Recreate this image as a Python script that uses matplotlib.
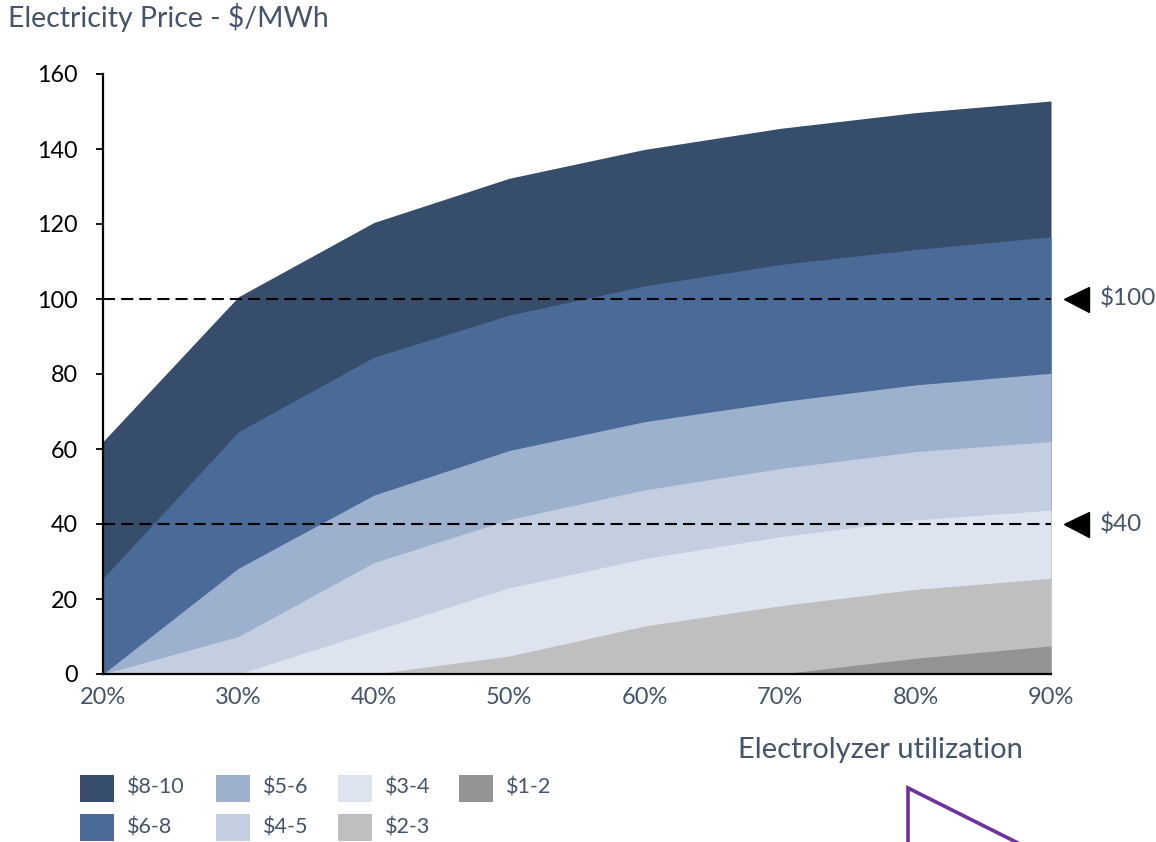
import matplotlib
matplotlib.use("Agg")
import matplotlib.pyplot as plt
from matplotlib.lines import Line2D
from matplotlib.patches import Rectangle
import matplotlib.transforms as mtransforms

# Electrolyzer utilization (%)
utilization = [20, 30, 40, 50, 60, 70, 80, 90]

# Upper edge of each hydrogen-cost band, electricity price in $/MWh
top_8_10 = [62.0, 100.6, 120.4, 132.2, 139.9, 145.5, 149.7, 152.8]
top_6_8 = [25.5, 64.6, 84.5, 95.7, 103.5, 109.2, 113.2, 116.6]
top_5_6 = [0.0, 28.2, 47.7, 59.6, 67.3, 72.6, 77.1, 80.2]
top_4_5 = [0.0, 10.0, 29.7, 41.2, 49.1, 54.8, 59.3, 62.0]
top_3_4 = [0.0, 0.0, 11.5, 23.0, 30.8, 36.6, 41.1, 43.7]
top_2_3 = [0.0, 0.0, 0.0, 4.8, 12.8, 18.2, 22.6, 25.5]
top_1_2 = [0.0, 0.0, 0.0, 0.0, 0.0, 0.0, 4.2, 7.5]

band_labels = ["$8-10", "$6-8", "$5-6", "$4-5", "$3-4", "$2-3", "$1-2"]
band_tops = [top_8_10, top_6_8, top_5_6, top_4_5, top_3_4, top_2_3, top_1_2]
band_colors = ["#374D6C", "#4A6A98", "#9DB0CE", "#C3CEE0", "#DEE4EF",
               "#BFBFBF", "#939393"]

# Reference electricity prices
ref_prices = [100, 40]
ref_labels = ["$100", "$40"]

y_ticks = [0, 20, 40, 60, 80, 100, 120, 140, 160]

TEXT = "#44546A"
FONT = ["Lato", "DejaVu Sans"]

plt.rcParams["font.family"] = FONT

W, H = 1156, 842
fig = plt.figure(figsize=(W / 100, H / 100), dpi=100)
ax = fig.add_axes([103 / W, 1 - 674 / H, 948 / W, 600 / H])

# Bands: each filled from zero, largest first, so no seams appear between them
for top, color in zip(band_tops, band_colors):
    ax.fill_between(utilization, 0, top, color=color, lw=0, antialiased=True)

ax.set_xlim(utilization[0], utilization[-1])
ax.set_ylim(0, 160)

# Dashed reference lines with pointer and value label on the right
trans = mtransforms.blended_transform_factory(ax.transAxes, ax.transData)
for price, label in zip(ref_prices, ref_labels):
    ax.plot(utilization, [price] * len(utilization), color="black", lw=1.5,
            dashes=(5.8, 2.9), zorder=5)
    ax.plot([1.0264], [price], marker="<", markersize=18, color="black",
            transform=trans, clip_on=False, zorder=6)
    ax.text(1.0517, price, label, transform=trans, ha="left", va="center",
            fontsize=17.5, color=TEXT)

# Axes styling
for side in ("top", "right"):
    ax.spines[side].set_visible(False)
ax.spines["left"].set_linewidth(1.6)
ax.spines["bottom"].set_linewidth(1.6)
ax.spines["left"].set_zorder(7)
ax.spines["bottom"].set_zorder(7)

ax.set_yticks(y_ticks)
ax.set_yticklabels([str(v) for v in y_ticks])
ax.tick_params(axis="y", direction="out", length=5, width=1.3, pad=13,
               labelsize=16.8, labelcolor="black")
ax.set_xticks(utilization)
ax.set_xticklabels([f"{v}%" for v in utilization])
ax.tick_params(axis="x", length=0, pad=9, labelsize=17, labelcolor=TEXT)

# Titles
fig.text(8 / W, 1 - 17 / H, "Electricity Price - $/MWh", ha="left",
         va="center", fontsize=20.4, color=TEXT)
fig.text(880 / W, 1 - 750 / H, "Electrolyzer utilization", ha="center",
         va="center", fontsize=21, color=TEXT)

# Legend laid out in two rows of four columns
legend_cols_x = [80, 216, 338, 459]
legend_rows_y = [788, 827]
for i, (label, color) in enumerate(zip(band_labels, band_colors)):
    col, row = i // 2, i % 2
    px = legend_cols_x[col]
    py = legend_rows_y[row]
    fig.patches.append(Rectangle((px / W, 1 - (py + 13.5) / H), 34 / W, 27 / H,
                                 transform=fig.transFigure, color=color,
                                 lw=0))
    fig.text((px + 47) / W, 1 - py / H, label, ha="left", va="center",
             fontsize=15.5, color=TEXT)

# Purple callout outline at the lower right
purple = "#7030A0"
fig.lines.append(Line2D([908 / W, 908 / W, 1128 / W],
                        [1 - 900 / H, 1 - 788 / H, 1 - 898 / H],
                        transform=fig.transFigure, color=purple, lw=2.6,
                        solid_joinstyle="miter"))

fig.savefig("out.png", dpi=100)
